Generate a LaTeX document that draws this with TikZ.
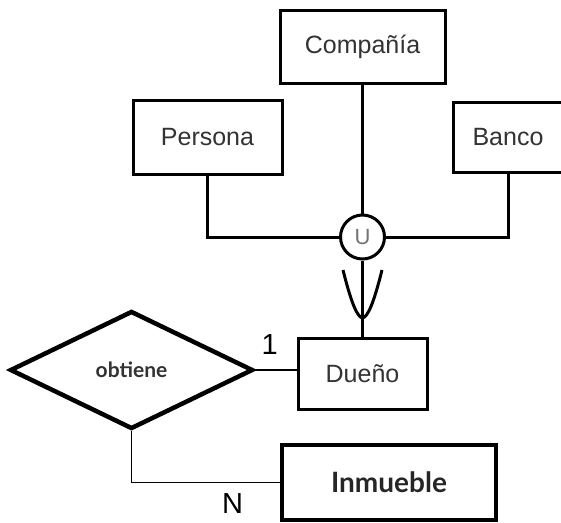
\documentclass[tikz,border=0pt]{standalone}
\usepackage{fontspec}
\setmainfont{Liberation Sans}
\newfontfamily\arialfont{Liberation Sans}
\newfontfamily\latofont{Lato}
\usetikzlibrary{shapes.geometric}
\tikzset{
  entidad/.style={draw, line width=3pt, inner sep=0pt, text=black!80, font=\arialfont\fontsize{25}{27}\selectfont},
  relacion/.style={draw, diamond, line width=4.5pt, inner sep=0pt, minimum width=243pt, minimum height=118pt, text=black!80, font=\latofont\bfseries\fontsize{21}{23}\selectfont},
  fuerte/.style={draw, line width=4pt, inner sep=0pt, text=black!85, font=\latofont\bfseries\fontsize{28}{30}\selectfont},
  enlace/.style={line width=3pt},
  fino/.style={line width=1.6pt},
  card/.style={font=\arialfont\fontsize{29}{30}\selectfont}
}
\begin{document}
\begin{tikzpicture}[x=1pt, y=-1pt, line join=miter]
	\clip (0,0) rectangle (561,522);
	\fill[white] (0,0) rectangle (561,522);
	% entidades
	\node[entidad, minimum width=165pt, minimum height=73pt] (compania) at (362.5,46.5) {Compañía};
	\node[entidad, minimum width=149pt, minimum height=74pt] (persona) at (207.5,137) {Persona};
	\node[entidad, minimum width=110pt, minimum height=70pt] (banco) at (508,137) {Banco};
	\node[entidad, minimum width=129pt, minimum height=71pt] (dueno) at (362.5,373.5) {Dueño};
	\node[fuerte, minimum width=214pt, minimum height=75pt] (inmueble) at (389,482.5) {Inmueble};
	\node[relacion] (obtiene) at (131.5,370) {obtiene};
	% union
	\node[draw, circle, line width=3pt, minimum size=44pt, inner sep=0pt, text=black!55, font=\arialfont\fontsize{22}{22}\selectfont] (union) at (362.5,237) {U};
	\draw[enlace] (compania) -- (union);
	\draw[enlace] (persona.south) |- (union.west);
	\draw[enlace] (banco.south) |- (union.east);
	\draw[enlace] (union) -- (dueno);
	\draw[enlace] (343,270) .. controls (351,302) and (357,317) .. (362.5,318) .. controls (368,317) and (374,302) .. (382,270);
	% relacion
	\draw[fino] (obtiene.east) -- (obtiene.east -| dueno.west) node[pos=0.35, above, card, yshift=11pt] {1};
	\draw[fino] (obtiene.south) |- (inmueble.west) node[pos=0.84, below, card, yshift=-7pt] {N};
\end{tikzpicture}
\end{document}
